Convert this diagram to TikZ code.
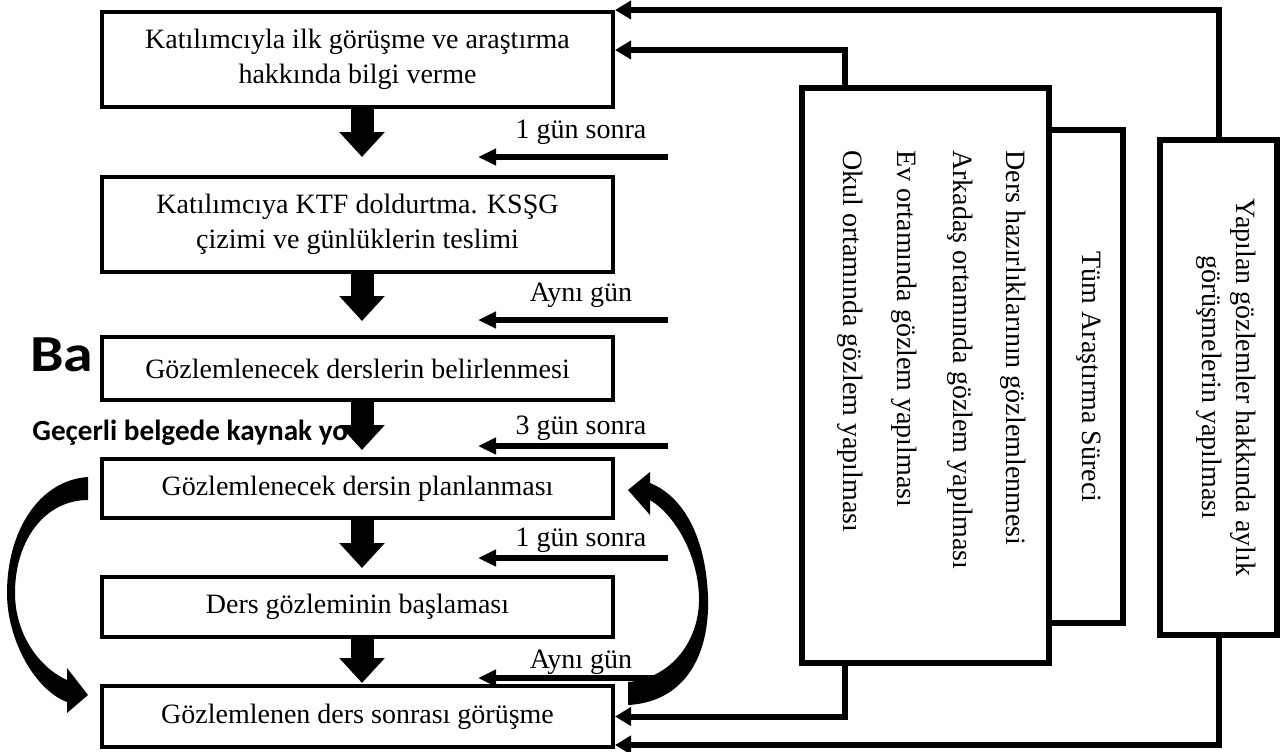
\documentclass[tikz,border=0pt]{standalone}
\usepackage{fontspec}
\setmainfont{Liberation Serif}
\newfontfamily\calibrifont{Carlito}
\usetikzlibrary{arrows.meta,calc}
\begin{document}
\begin{tikzpicture}[x=0.5pt,y=-0.5pt,
  lbox/.style={draw,line width=2pt,fill=white,minimum width=255.5pt,inner sep=0pt,align=center,font=\fontsize{14}{17.5}\selectfont},
  rbox/.style={draw,line width=2.75pt,fill=white,inner sep=0pt},
  conn/.style={line width=3pt,-{Triangle[length=8pt,width=9pt]}},
  dayarrow/.style={line width=3pt,-{Triangle[length=9pt,width=8pt]}},
  blockarrow/.style={line width=11.5pt,-{Triangle[length=12.5pt,width=22pt]}},
  lbl/.style={font=\fontsize{14}{16}\selectfont,inner sep=0pt},
  vtext/.style={rotate=-90,inner sep=0pt,font=\fontsize{14}{17}\selectfont},
  curvedarrow/.style={fill=black},
  ghost/.style={inner sep=0pt,anchor=base west}
]
\useasboundingbox (0,0) rectangle (1280,751);

% ghost texts (partly hidden)
\node[ghost,font=\calibrifont\bfseries\fontsize{26}{30}\selectfont] (g1) at (30,371) {\scalebox{1.15}[1]{Ba}};
\node[ghost,font=\calibrifont\bfseries\fontsize{14.6}{18}\selectfont] (g2) at (32,440) {Geçerli belgede kaynak yo};

% left boxes
\node[lbox,minimum height=47.5pt] (b1) at (357.5,59.5) {Katılımcıyla ilk görüşme ve araştırma\\hakkında bilgi verme};
\node[lbox,minimum height=47.5pt] (b2) at (357.5,224.5) {Katılımcıya KTF doldurtma. KSŞG\\çizimi ve günlüklerin teslimi};
\node[lbox,minimum height=31.5pt] (b3) at (357.5,368.5) {Gözlemlenecek derslerin belirlenmesi};
\node[lbox,minimum height=29.5pt] (b4) at (357.5,488.5) {Gözlemlenecek dersin planlanması};
\node[lbox,minimum height=30pt] (b5) at (357.5,607) {Ders gözleminin başlaması};
\node[lbox,minimum height=30.5pt] (b6) at (357.5,716.5) {Gözlemlenen ders sonrası görüşme};

% down block arrows
\draw[blockarrow] ($(b1.south)+(4.5,0)$) -- ($(b2.north)+(4.5,-18)$);
\draw[blockarrow] ($(b2.south)+(4.5,0)$) -- ($(b3.north)+(4.5,-14)$);
\draw[blockarrow] ($(b3.south)+(4.5,0)$) -- ($(b4.north)+(4.5,-7)$);
\draw[blockarrow] ($(b4.south)+(4.5,0)$) -- ($(b5.north)+(4.5,-7)$);
\draw[blockarrow] ($(b5.south)+(4.5,0)$) -- ($(b6.north)+(4.5,-1)$);

% day arrows and labels
\coordinate (d1s) at (668,157); \coordinate (d1e) at (478,157);
\coordinate (d2s) at (668,320); \coordinate (d2e) at (478,320);
\coordinate (d3s) at (668,446); \coordinate (d3e) at (478,446);
\coordinate (d4s) at (668,558); \coordinate (d4e) at (478,558);
\coordinate (d5s) at (668,678); \coordinate (d5e) at (478,678);
\draw[dayarrow] (d1s) -- (d1e);
\draw[dayarrow] (d2s) -- (d2e);
\draw[dayarrow] (d3s) -- (d3e);
\draw[dayarrow] (d4s) -- (d4e);
\draw[dayarrow] (d5s) -- (d5e);
\node[lbl] (l1) at (581,132) {1 gün sonra};
\node[lbl] (l2) at (581,295) {Aynı gün};
\node[lbl] (l3) at (581,428) {3 gün sonra};
\node[lbl] (l4) at (581,540) {1 gün sonra};
\node[lbl] (l5) at (581,662) {Aynı gün};

% curved arrows
\fill[curvedarrow] (88,477) .. controls (40,480) and (7,530) .. (7,593)
  .. controls (7,640) and (35,690) .. (67,702) -- (67,713) -- (88,695) -- (67,668) -- (67,680)
  .. controls (40,668) and (15,635) .. (15,593) .. controls (15,540) and (45,500) .. (88,500) -- cycle;
\fill[curvedarrow] (628,705) .. controls (685,702) and (710,655) .. (708,597)
  .. controls (706,540) and (685,497) .. (650,483) -- (650,472) -- (628,490) -- (650,515) -- (650,500)
  .. controls (675,515) and (698,555) .. (699,597) .. controls (700,640) and (672,678) .. (628,682) -- cycle;

% right boxes
\node[rbox,minimum width=37pt,minimum height=246.5pt] (tum) at (1086,376.5) {};
\node[rbox,minimum width=123.5pt,minimum height=287.5pt] (big) at (925.5,375.5) {};
\node[rbox,minimum width=58.5pt,minimum height=247.5pt] (yap) at (1218.5,387.5) {};

\node[vtext] (ttum) at (1089,377) {Tüm Araştırma Süreci};
\node[vtext,anchor=west] (t1) at (1013,150) {Ders hazırlıklarının gözlemlenmesi};
\node[vtext,anchor=west] (t2) at (960,150) {Arkadaş ortamında gözlem yapılması};
\node[vtext,anchor=west] (t3) at (904,150) {Ev ortamında gözlem yapılması};
\node[vtext,anchor=west] (t4) at (850,150) {Okul ortamında gözlem yapılması};
\node[vtext,align=center] (tyap) at (1226,387.5) {Yapılan gözlemler hakkında aylık\\görüşmelerin yapılması};

% connectors from right boxes to left boxes
\coordinate (bt) at ($(big.north west)+(46,0)$);
\coordinate (bb) at ($(big.south west)+(46,0)$);
\draw[conn] (yap.north) |- (b1.north east);
\draw[conn] (bt) |- ($(b1.east)+(0,-9.5)$);
\draw[conn] (bb) |- (b6.east);
\draw[conn] (yap.south) |- ($(b6.south east)+(0,-4)$);
\end{tikzpicture}
\end{document}
